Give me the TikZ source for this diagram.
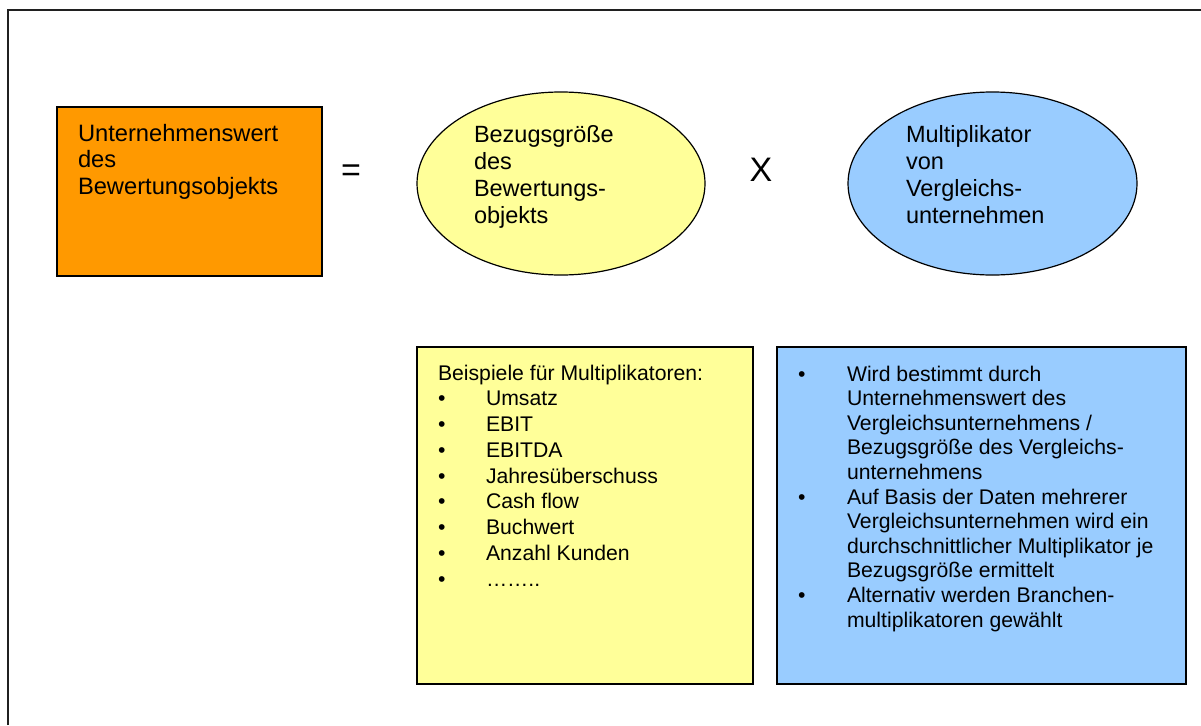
\documentclass[tikz,border=0pt]{standalone}
\usepackage{fontspec}
\setmainfont{Liberation Sans}
\usetikzlibrary{shapes.geometric}
\definecolor{boxorange}{HTML}{FF9900}
\definecolor{paleyellow}{HTML}{FFFF99}
\definecolor{paleblue}{HTML}{99CCFF}
\definecolor{framegray}{HTML}{202020}
\begin{document}
\begin{tikzpicture}[x=1pt,y=-1pt,
  shapebox/.style={draw=black, line width=1.5pt, inner sep=0pt, outer sep=0pt},
  oval/.style={shapebox, ellipse, line width=1.2pt},
  textblock/.style={anchor=north west, inner sep=0pt, outer sep=0pt, align=left},
  headfont/.style={font=\fontsize{23.7}{26.6}\selectfont},
  ovalfont/.style={font=\fontsize{23.5}{27}\selectfont},
  listfont/.style={font=\fontsize{21.2}{25.75}\selectfont},
  notefont/.style={font=\fontsize{21.2}{24.6}\selectfont},
  opfont/.style={font=\fontsize{34}{40}\selectfont, inner sep=0pt}
]
\useasboundingbox (0,0) rectangle (1201,725);

% open frame: top and left edge only
\draw[framegray, line width=2pt] (7.5,725) -- (7.5,10.5) -- (1201,10.5);

% upper row: value = reference figure x multiple
\node[shapebox, fill=boxorange, minimum width=265pt, minimum height=169pt] (wert) at (189.5,191.5) {};
\node[textblock, headfont] (werttext) at (78,122.4) {\begin{tabular}{@{}l@{}}Unternehmenswert\\des\\Bewertungsobjekts\end{tabular}};

\node[opfont] (gleich) at (351,173) {=};

\node[oval, fill=paleyellow, minimum width=288pt, minimum height=183pt] (bezug) at (561,183.5) {};
\node[textblock, ovalfont] (bezugtext) at (474,123.1) {\begin{tabular}{@{}l@{}}Bezugsgröße\\des\\Bewertungs-\\objekts\end{tabular}};

\node[opfont] (mal) at (761,170) {X};

\node[oval, fill=paleblue, minimum width=289pt, minimum height=183pt] (multi) at (992.5,183.5) {};
\node[textblock, ovalfont] (multitext) at (906,123.1) {\begin{tabular}{@{}l@{}}Multiplikator\\von\\Vergleichs-\\unternehmen\end{tabular}};

% lower row: explanation boxes
\node[shapebox, fill=paleyellow, minimum width=336pt, minimum height=337pt] (beispiele) at (585,515.5) {};
\node[textblock, listfont] (beispieletext) at (438,362) {\begin{tabular}{@{}p{48pt}@{}l@{}}
\multicolumn{2}{@{}l@{}}{Beispiele für Multiplikatoren:}\\
• & Umsatz\\
• & EBIT\\
• & EBITDA\\
• & Jahresüberschuss\\
• & Cash flow\\
• & Buchwert\\
• & Anzahl Kunden\\
• & ……..
\end{tabular}};

\node[shapebox, fill=paleblue, minimum width=409pt, minimum height=337pt] (erlaeuterung) at (981.5,515.5) {};
\node[textblock, notefont] (erlaeuterungtext) at (798,363.8) {\begin{tabular}{@{}p{49pt}@{}l@{}}
• & Wird bestimmt durch\\
  & Unternehmenswert des\\
  & Vergleichsunternehmens /\\
  & Bezugsgröße des Vergleichs-\\
  & unternehmens\\
• & Auf Basis der Daten mehrerer\\
  & Vergleichsunternehmen wird ein\\
  & durchschnittlicher Multiplikator je\\
  & Bezugsgröße ermittelt\\
• & Alternativ werden Branchen-\\
  & multiplikatoren gewählt
\end{tabular}};
\end{tikzpicture}
\end{document}
